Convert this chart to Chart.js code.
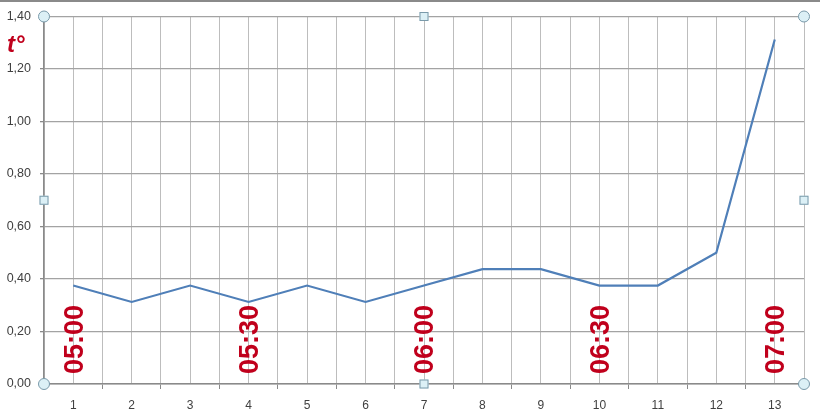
<!DOCTYPE html>
<html>
<head>
<meta charset="utf-8">
<script src="https://cdn.jsdelivr.net/npm/chart.js@4/dist/chart.umd.min.js"></script>
<style>
html,body{margin:0;padding:0;background:#fff;}
#wrap{width:820px;height:410px;position:relative;}
</style>
</head>
<body>
<div id="wrap"><canvas id="c" width="820" height="410"></canvas></div>
<script>
// ---- data ----
const categories = ['1','2','3','4','5','6','7','8','9','10','11','12','13'];
const temps = [0.375, 0.3125, 0.375, 0.3125, 0.375, 0.3125, 0.375, 0.4375, 0.4375, 0.375, 0.375, 0.5, 1.3125];
const yTicksMin = 0, yTicksMax = 1.4, yTicksStep = 0.2;
const timeMarkIndex = [1, 4, 7, 10, 13];
const timeMarkText = ['05:00', '05:30', '06:00', '06:30', '07:00'];
const unitLabel = 't°';

const RED = '#c0001c';

const points = categories.map((c, i) => ({ x: i + 1, y: temps[i] }));

const decorPlugin = {
  id: 'decor',
  beforeDraw(chart) {
    const ctx = chart.ctx;
    ctx.save();
    ctx.fillStyle = '#fff';
    ctx.fillRect(0, 0, chart.width, chart.height);
    ctx.strokeStyle = '#8a8a8a';
    ctx.lineWidth = 2;
    ctx.beginPath();
    ctx.moveTo(0, 1);
    ctx.lineTo(chart.width, 1);
    ctx.stroke();
    ctx.restore();
  },
  afterDatasetsDraw(chart) {
    const ctx = chart.ctx;
    const xs = chart.scales.x;
    const a = chart.chartArea;
    ctx.save();
    // rotated time labels
    ctx.fillStyle = RED;
    ctx.font = 'bold 27px "Liberation Sans", Arial, sans-serif';
    ctx.textAlign = 'left';
    ctx.textBaseline = 'middle';
    timeMarkIndex.forEach((idx, k) => {
      const px = xs.getPixelForValue(idx);
      ctx.save();
      ctx.translate(px + 2, a.bottom - 10);
      ctx.rotate(-Math.PI / 2);
      ctx.fillText(timeMarkText[k], 0, 0);
      ctx.restore();
    });
    // unit label
    ctx.font = 'italic bold 24px "Liberation Sans", Arial, sans-serif';
    ctx.textAlign = 'left';
    ctx.textBaseline = 'alphabetic';
    ctx.fillText(unitLabel, 7, a.top + 35);
    // selection handles
    const midX = (a.left + a.right) / 2, midY = (a.top + a.bottom) / 2;
    ctx.fillStyle = '#dcf0f6';
    ctx.strokeStyle = '#7a9aaa';
    ctx.lineWidth = 1;
    [[a.left, a.top], [a.right, a.top], [a.left, a.bottom], [a.right, a.bottom]].forEach(([x, y]) => {
      ctx.beginPath();
      ctx.arc(x, y, 5.5, 0, Math.PI * 2);
      ctx.fill();
      ctx.stroke();
    });
    [[midX, a.top], [midX, a.bottom], [a.left, midY], [a.right, midY]].forEach(([x, y]) => {
      ctx.fillRect(x - 4.5, y - 4.5, 9, 9);
      ctx.strokeRect(x - 4, y - 4, 8, 8);
    });
    ctx.restore();
  }
};

new Chart(document.getElementById('c'), {
  type: 'line',
  data: {
    datasets: [{
      data: points,
      borderColor: '#4f7fb8',
      borderWidth: 2.2,
      pointRadius: 0,
      tension: 0,
      fill: false
    }]
  },
  options: {
    responsive: false,
    animation: false,
    devicePixelRatio: 1,
    layout: { padding: { top: 14, right: 16, left: 0, bottom: 0 } },
    plugins: { legend: { display: false }, tooltip: { enabled: false } },
    scales: {
      x: {
        type: 'linear',
        min: 0.5,
        max: categories.length + 0.5,
        afterFit: (s) => { s.height = 26; },
        ticks: {
          stepSize: 0.5,
          autoSkip: false,
          maxRotation: 0,
          padding: 9,
          color: '#404040',
          font: { family: '"Liberation Sans", Arial, sans-serif', size: 12 },
          callback: (v) => Number.isInteger(v) ? categories[v - 1] : ''
        },
        grid: {
          color: '#bdbdbd',
          lineWidth: 1,
          tickLength: 5,
          tickColor: (c) => (c.tick && Number.isInteger(c.tick.value)) ? 'rgba(0,0,0,0)' : '#8a8a8a'
        },
        border: { color: '#8a8a8a', width: 1.5 }
      },
      y: {
        min: yTicksMin,
        max: yTicksMax,
        afterFit: (s) => { s.width = 44; },
        ticks: {
          stepSize: yTicksStep,
          padding: 9,
          color: '#404040',
          font: { family: '"Liberation Sans", Arial, sans-serif', size: 12.5 },
          callback: (v) => v.toFixed(2).replace('.', ',')
        },
        grid: { color: '#a3a3a3', lineWidth: 1.3, tickLength: 4, tickColor: '#8a8a8a' },
        border: { color: '#8a8a8a', width: 1.5 }
      }
    }
  },
  plugins: [decorPlugin]
});
</script>
</body>
</html>
